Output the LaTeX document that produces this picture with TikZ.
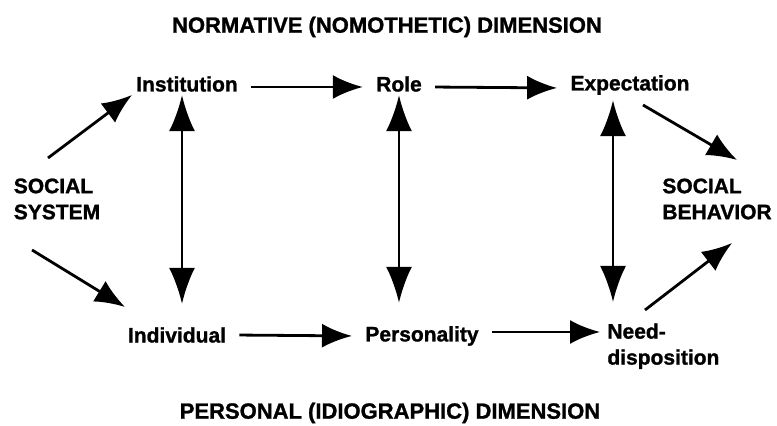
\documentclass[tikz,border=0pt]{standalone}
\usepackage{fontspec}
\setmainfont[BoldFeatures={FakeBold=1.2}]{Liberation Sans}
\usetikzlibrary{arrows.meta,positioning,calc}
\tikzset{
  term/.style={font=\fontsize{10.5}{13}\selectfont\bfseries,inner sep=3.5pt},
  dimtitle/.style={font=\fontsize{11}{13}\selectfont\bfseries,inner sep=2pt},
  arrow/.style={-{Latex[length=15pt,width=12pt]},line width=1.4pt,
    shorten >=3pt,shorten <=3pt},
  twoway/.style={{Latex[length=18pt,width=13pt]}-{Latex[length=18pt,width=13pt]},
    line width=1.4pt}
}
\begin{document}
\begin{tikzpicture}[x=0.5pt,y=-0.5pt]
  \useasboundingbox (0,0) rectangle (777,426);
  % dimension titles
  \node[dimtitle] (nomo) at (387,27) {NORMATIVE (NOMOTHETIC) DIMENSION};
  \node[dimtitle] (idio) at (390,413) {PERSONAL (IDIOGRAPHIC) DIMENSION};
  % nomothetic row
  \node[term] (inst) at (187,84) {Institution};
  \node[term] (role) at (399,84) {Role};
  \node[term] (expect) at (630,85) {Expectation};
  % idiographic row
  \node[term] (indiv) at (177,335) {Individual};
  \node[term] (pers) at (422,336) {Personality};
  \node[term,align=left,anchor=north west] (need) at (600,316) {Need-\\disposition};
  % system and behaviour
  \node[term,align=left] (sys) at (57,199) {SOCIAL\\SYSTEM};
  \node[term,align=left,anchor=west] (beh) at (655,199) {SOCIAL\\BEHAVIOR};
  % horizontal flow
  \draw[arrow] ([yshift=-1.5pt]inst.east) -- ([yshift=-1.5pt]role.west);
  \draw[arrow] ([yshift=-1.5pt]role.east) -- ([yshift=-1.5pt]expect.west);
  \draw[arrow] (indiv.east) -- (pers.west);
  \draw[arrow,shorten >=0pt] ([yshift=2pt]pers.east) -- ([yshift=2pt]pers.east -| need.west);
  % two-way links
  \draw[twoway,shorten <=-2pt,shorten >=8pt] ([xshift=-2.5pt]inst.south) -- ([xshift=-2.5pt]inst.south |- indiv.north);
  \draw[twoway,shorten <=-2pt,shorten >=8pt] (role.south) -- (role.south |- pers.north);
  \draw[twoway,shorten <=-1pt,shorten >=7pt] ($(expect.south)+(-17,0)$) -- ($(expect.south |- need.north)+(-17,0)$);
  % entry and exit
  \draw[arrow,shorten <=0pt,shorten >=0pt] ($(sys)+(-9,-41)$) -- ($(inst)+(-55,11)$);
  \draw[arrow,shorten <=0pt,shorten >=0pt] ($(sys)+(-25,51)$) -- ($(indiv)+(-52,-28)$);
  \draw[arrow,shorten <=0pt,shorten >=0pt] ($(expect)+(13,20)$) -- ($(beh.center)+(20,-39)$);
  \draw[arrow,shorten <=0pt,shorten >=0pt] ($(need.north west)+(45,-6)$) -- ($(beh.center)+(15,44)$);
\end{tikzpicture}
\end{document}
